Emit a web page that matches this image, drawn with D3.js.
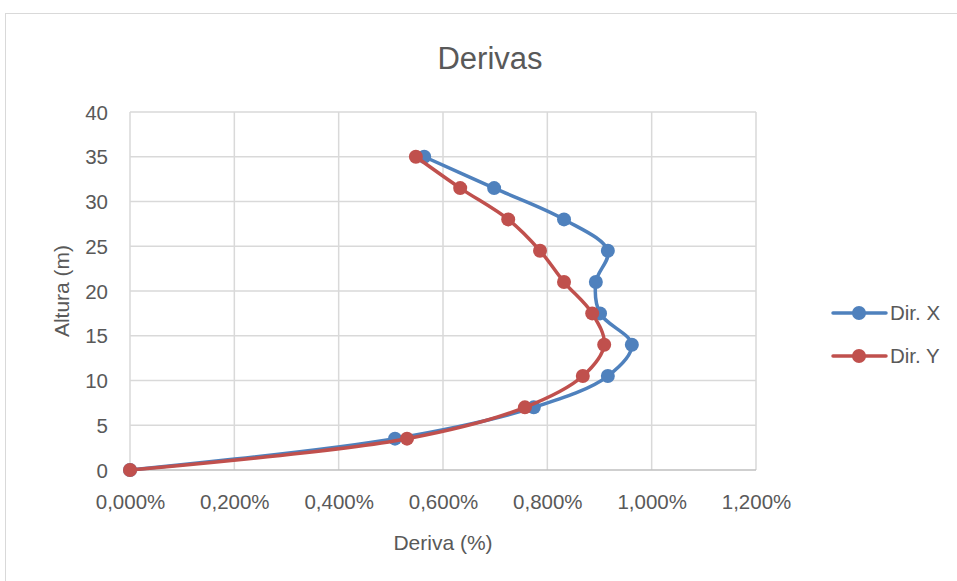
<!DOCTYPE html>
<html><head><meta charset="utf-8">
<script src="https://cdn.jsdelivr.net/npm/d3@7"></script>
<style>body{margin:0;background:#fff}svg{display:block}text{font-family:"Liberation Sans",Arial,sans-serif;fill:#595959}</style>
</head><body>
<svg id="c" width="957" height="581"></svg>
<script>
const heights = [0, 3.5, 7, 10.5, 14, 17.5, 21, 24.5, 28, 31.5, 35];
const dirX = [0, 0.508, 0.774, 0.916, 0.962, 0.901, 0.893, 0.916, 0.832, 0.698, 0.564];
const dirY = [0, 0.531, 0.757, 0.868, 0.909, 0.886, 0.832, 0.786, 0.725, 0.633, 0.548];
const xTicks = [0, 0.2, 0.4, 0.6, 0.8, 1.0, 1.2];
const yTicks = [0, 5, 10, 15, 20, 25, 30, 35, 40];
const seriesNames = ["Dir. X", "Dir. Y"];
const colors = ["#4f81bd", "#c0504d"];

const svg = d3.select("#c");
svg.append("rect").attr("x",5.5).attr("y",13.5).attr("width",960).attr("height",580)
  .attr("fill","#fff").attr("stroke","#d9d9d9");

const x = d3.scaleLinear().domain([0,1.2]).range([130,756]);
const y = d3.scaleLinear().domain([0,40]).range([470,112]);

const g = svg.append("g");
g.selectAll(".vg").data(xTicks).join("line")
  .attr("x1",d=>x(d)).attr("x2",d=>x(d)).attr("y1",y(40)).attr("y2",y(0))
  .attr("stroke","#d9d9d9").attr("stroke-width",1.5);
g.selectAll(".hg").data(yTicks).join("line")
  .attr("x1",x(0)).attr("x2",x(1.2)).attr("y1",d=>y(d)).attr("y2",d=>y(d))
  .attr("stroke",d=>d===0?"#bfbfbf":"#d9d9d9").attr("stroke-width",1.5);

const xAxis = d3.axisBottom(x).tickValues(xTicks).tickSize(0).tickPadding(0)
  .tickFormat(d=>d3.format(".3f")(d).replace(".",",")+"%");
const xa = svg.append("g").attr("transform",`translate(0,${y(0)})`).call(xAxis);
xa.select(".domain").remove();
xa.selectAll("text").attr("dy",null).attr("y",39).style("font-size","20.5px");

const yAxis = d3.axisLeft(y).tickValues(yTicks).tickSize(0).tickPadding(0);
const ya = svg.append("g").attr("transform",`translate(108,0)`).call(yAxis);
ya.select(".domain").remove();
ya.selectAll("text").attr("dy","0.35em").attr("x",0).style("font-size","20.5px");

svg.append("text").attr("x",490).attr("y",69).attr("text-anchor","middle")
  .style("font-size","31px").text("Derivas");
svg.append("text").attr("x",443).attr("y",550).attr("text-anchor","middle")
  .style("font-size","21px").text("Deriva (%)");
svg.append("text").attr("transform","translate(69,291) rotate(-90)").attr("text-anchor","middle")
  .style("font-size","21px").text("Altura (m)");

const series = [dirX, dirY];
const line = d3.line().x(d=>x(d[0])).y(d=>y(d[1])).curve(d3.curveCatmullRom.alpha(0.5));
series.forEach((vals,i)=>{
  const pts = vals.map((v,k)=>[v,heights[k]]);
  svg.append("path").datum(pts).attr("d",line).attr("fill","none")
    .attr("stroke",colors[i]).attr("stroke-width",3.5).attr("stroke-linejoin","round").attr("stroke-linecap","round");
  svg.append("g").selectAll("circle").data(pts).join("circle")
    .attr("cx",d=>x(d[0])).attr("cy",d=>y(d[1])).attr("r",7).attr("fill",colors[i]);
});

const legY = [313, 356];
seriesNames.forEach((n,i)=>{
  const lg = svg.append("g");
  lg.append("line").attr("x1",833).attr("x2",886).attr("y1",legY[i]).attr("y2",legY[i])
    .attr("stroke",colors[i]).attr("stroke-width",3.5).attr("stroke-linecap","round");
  lg.append("circle").attr("cx",859).attr("cy",legY[i]).attr("r",7).attr("fill",colors[i]);
  lg.append("text").attr("x",890).attr("y",legY[i]).attr("dy","0.35em").style("font-size","20.5px").text(n);
});
</script>
</body></html>
